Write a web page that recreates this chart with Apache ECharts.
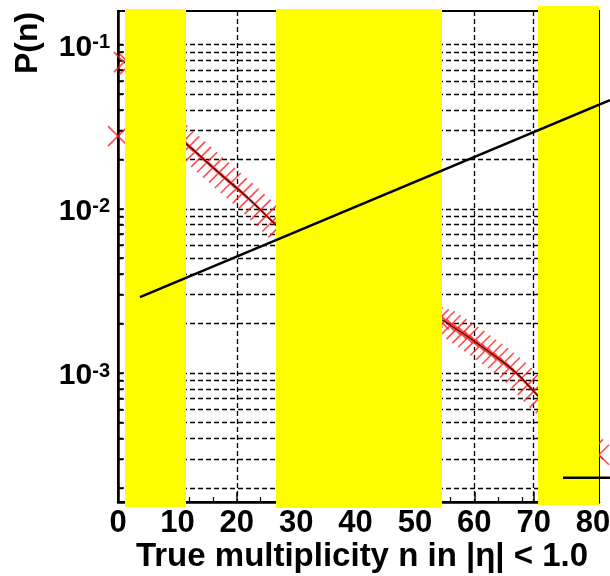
<!DOCTYPE html>
<html><head><meta charset="utf-8">
<script src="https://cdn.jsdelivr.net/npm/echarts@6/dist/echarts.min.js"></script>
<style>html,body{margin:0;padding:0;background:#fff}#c{width:610px;height:576px}</style>
</head><body><div id="c"></div>
<script>
// ---- data ----
const nValues = [0,1,2,3,4,5,6,7,8,9,10,11,12,13,14,15,16,17,18,19,20,21,22,23,24,25,26,27,28,29,30,31,32,33,34,35,36,37,38,39,40,41,42,43,44,45,46,47,48,49,50,51,52,53,54,55,56,57,58,59,60,61,62,63,64,65,66,67,68,69,70,71,72,73,74,75,76,77,78,79,80,81];
const pValues = [0.0277,0.0782,0.076,0.068,0.059,0.051,0.044,0.039,0.035,0.031,0.028,
  0.0257,0.0240,0.0223,0.0207,0.0192,0.0178,0.0166,0.0154,0.01435,0.01337,0.01245,0.01153,0.01067,0.00984,0.00908,0.00836,0.00771,
  0.00727,0.00690,0.00655,0.00622,0.00592,0.00563,0.00536,0.00510,0.00486,0.00463,0.00441,0.00420,0.00401,0.00382,0.00364,0.00347,0.00331,0.00316,0.00301,0.00287,0.00274,0.00261,0.00249,0.00238,0.00227,0.00218,0.00212,
  0.002065,0.001954,0.001849,0.00175,0.001656,0.001563,0.001472,0.001387,0.001306,0.00123,0.001156,0.001081,0.001007,0.000933,0.000847,0.000773,
  0.000708,0.000655,0.000605,0.000558,0.000514,0.000473,0.000435,0.000400,0.000368,0.000343,0.000318];
const xTickValues = [0,10,20,30,40,50,60,70,80];
const yGridValues = [2e-4,3e-4,4e-4,5e-4,6e-4,7e-4,8e-4,9e-4,1e-3,2e-3,3e-3,4e-3,5e-3,6e-3,7e-3,8e-3,9e-3,1e-2,2e-2,3e-2,4e-2,5e-2,6e-2,7e-2,8e-2,9e-2,1e-1];
const yLabelValues = [1e-3,1e-2,1e-1];
const overlayLineA = [[3.7,0.00290],[82.8,0.0459]];
const overlayLineB = [[74.9,0.00023],[82.8,0.00023]];
const xTitle = 'True multiplicity n in |\u03b7| < 1.0';
const yTitle = 'P(n)';

// ---- layout (pixels) ----
const bandRects = [
  {x:125, y:9, w:61, h:498},
  {x:276, y:9, w:166, h:499},
  {x:538, y:6, w:61, h:499}
];

const points = nValues.map((n,i)=>[n,pValues[i]]);
const YMIN = 1.64e-4, YMAX = 0.160;
const FONT = 'Liberation Sans';
const chart = echarts.init(document.getElementById('c'), null, {renderer:'canvas'});
chart.setOption({
  animation:false,
  backgroundColor:'#fff',
  grid:[
    {left:118, top:11, width:481, height:491, show:true, borderColor:'#000', borderWidth:2, outerBoundsMode:'none', containLabel:false},
    {left:118, top:11, width:505, height:491, show:false, outerBoundsMode:'none', containLabel:false}
  ],
  xAxis:[{
    type:'value', min:0, max:81, gridIndex:0,
    axisLine:{show:true, onZero:false, lineStyle:{color:'#000', width:2.5}},
    axisTick:{show:true, inside:true, length:10, customValues:xTickValues, lineStyle:{color:'#000', width:1.5}},
    minorTick:{show:true, splitNumber:5, length:5, lineStyle:{color:'#000', width:1.2}},
    axisLabel:{customValues:xTickValues, color:'#000', fontFamily:FONT, fontWeight:'bold', fontSize:31, margin:6},
    splitLine:{show:true, lineStyle:{color:'#000', width:1.3, type:[5,3]}},
    name:xTitle, nameLocation:'middle', nameGap:38, nameMoveOverlap:false,
    nameTextStyle:{color:'#000', fontFamily:FONT, fontWeight:'bold', fontSize:33, padding:[0,0,0,7]}
  },{
    type:'value', min:0, max:85, gridIndex:1, show:false
  }],
  yAxis:[{
    type:'log', logBase:10, min:YMIN, max:YMAX, gridIndex:0,
    axisLine:{show:true, onZero:false, lineStyle:{color:'#000', width:2.5}},
    axisTick:{show:true, inside:true, length:6, customValues:yGridValues, lineStyle:{color:'#000', width:1.5}},
    axisLabel:{customValues:yLabelValues, margin:8,
      formatter:function(v){ return '{b|10}{s|' + Math.round(Math.log10(v)) + '}'; },
      rich:{
        b:{color:'#000', fontFamily:FONT, fontWeight:'bold', fontSize:30, lineHeight:36, verticalAlign:'bottom'},
        s:{color:'#000', fontFamily:FONT, fontWeight:'bold', fontSize:20, verticalAlign:'top', padding:[6,0,0,0]}
      }},
    splitLine:{show:true, lineStyle:{color:'#000', width:1.3, type:[5,3]}}
  },{
    type:'log', logBase:10, min:YMIN, max:YMAX, gridIndex:1, show:false
  }],
  series:[
    {type:'scatter', data:points, symbol:'path://M0 0L10 10M10 0L0 10', symbolSize:20, z:2,
     itemStyle:{color:'rgba(0,0,0,0)', borderColor:'#ff2020', borderWidth:1.6}, silent:true},
    {type:'line', data:points.slice(1), showSymbol:false, z:3, lineStyle:{color:'#000', width:1.2, opacity:0.75}, silent:true},
    {type:'line', data:overlayLineA, xAxisIndex:1, yAxisIndex:1, showSymbol:false, clip:false, z:20, lineStyle:{color:'#000', width:2.5}, silent:true},
    {type:'line', data:overlayLineB, xAxisIndex:1, yAxisIndex:1, showSymbol:false, clip:false, z:20, lineStyle:{color:'#000', width:2.5}, silent:true}
  ],
  graphic: bandRects.map(r=>({type:'rect', z:10, silent:true, shape:{x:r.x, y:r.y, width:r.w, height:r.h}, style:{fill:'#ffff00'}})).concat([
    {type:'text', z:10, silent:true, x:28.5, y:43, rotation:Math.PI/2,
     style:{text:yTitle, fill:'#000', font:'bold 32px "Liberation Sans"', align:'center', verticalAlign:'middle'}}
  ])
});
</script></body></html>
